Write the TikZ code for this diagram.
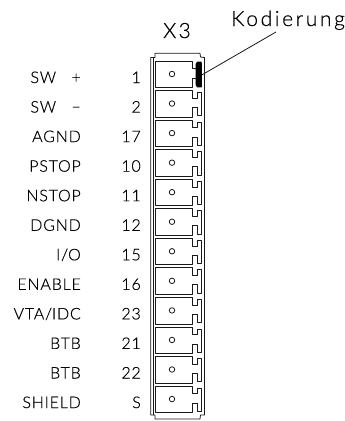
\documentclass[tikz,border=0pt]{standalone}
\usepackage{fontspec}
\setmainfont{Lato Light}[LetterSpace=5,FakeBold=0.4]
\newfontfamily\bigfont{Lato Light}[LetterSpace=11,FakeBold=0.4]
\newfontfamily\kodfont{Lato Light}[LetterSpace=12.5,FakeBold=0.4]
\tikzset{
  lab/.style={font=\fontsize{16}{18}\selectfont,text=black,inner sep=0pt},
  sig/.style={lab,anchor=base east},
  num/.style={lab,anchor=base east},
  big/.style={font=\bigfont\fontsize{21}{23}\selectfont,text=black,inner sep=0pt,anchor=base west},
  wire/.style={line width=0.8pt,black!90,line join=round},
}
\begin{document}
\begin{tikzpicture}[x=1pt,y=-1pt]
\useasboundingbox (0,0) rectangle (345,421);
% housing
\draw[wire] (150.8,415) -- (150.8,57.5) -- (155,57.5) -- (155,53.3) -- (200,53.3) -- (200.5,57) -- (204.5,57.5) -- (204.5,415) -- (200.5,415) -- (200,419) -- (155,419) -- (155,415) -- cycle;
\draw[wire] (153.4,415) -- (153.4,57.5);
\foreach \n/\s/\t [count=\i from 0] in {1/{SW\ \ \ +}/a,2/{SW\ \ \ −}/b,17/AGND/c,10/PSTOP/d,11/NSTOP/e,12/DGND/f,15/I\slash O/g,16/ENABLE/h,23/VTA\slash IDC/i,21/BTB/j,22/BTB/k,S/SHIELD/l}{
  \pgfmathsetmacro\cy{74+29.55*\i}
  \begin{scope}[shift={(0,\cy)}]
    \draw[wire] (155.5,-13) -- (192,-13) -- (192,-5.3) -- (197,-5.3) -- (197,-11) -- (201.5,-11) -- (201.5,12.3) -- (197,12.3) -- (197,4) -- (192,4) -- (192,13.5) -- (155.5,13.5) -- cycle;
    \node[draw,circle,wire,minimum size=5.5pt,inner sep=0pt] (hole\t) at (172,0) {};
    \node[num] (pin\t) at (141,9) {\n};
    \node[sig] (name\t) at (81,9) {\s};
  \end{scope}
}
\fill[black] (197,61.7) -- (201.7,61.7) -- (201.7,87.3) -- (197,87.3) -- (195.7,85) -- (195.7,64) -- cycle;
\node[big] (x3) at (163,38) {X3};
\node[big,font=\kodfont\fontsize{21}{23}\selectfont] (kod) at (231,26) {Kodierung};
\coordinate (tip) at (201.7,75);
\coordinate (lead) at (276,32);
\draw[wire] (tip) -- (lead);
\end{tikzpicture}
\end{document}
